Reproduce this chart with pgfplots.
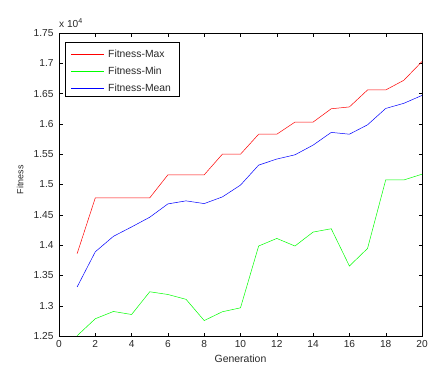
\documentclass[border=0pt]{standalone}
\usepackage{pgfplots}
\pgfplotsset{compat=1.18}
\usepackage{fontspec}
\setmainfont{Liberation Sans}
\definecolor{mred}{RGB}{255,0,0}
\definecolor{mgreen}{RGB}{0,255,0}
\definecolor{mblue}{RGB}{0,0,255}
\definecolor{mtext}{RGB}{40,40,40}
\begin{document}
\begin{tikzpicture}
\useasboundingbox (-59bp,-33bp) rectangle (371bp,336bp);
\begin{axis}[
  name=ax,
  at={(0,0)}, anchor=south west,
  scale only axis, width=363bp, height=303bp,
  xmin=0, xmax=20, ymin=12500, ymax=17500,
  xtick={0,2,...,20},
  ytick={12500,13000,...,17500},
  yticklabels={1.25,1.3,1.35,1.4,1.45,1.5,1.55,1.6,1.65,1.7,1.75},
  scaled y ticks=false,
  tick align=inside,
  major tick length=3.5bp,
  tick style={black, line width=0.4pt},
  axis line style={black, line width=0.5pt},
  ticklabel style={font=\fontsize{10.2}{12}\selectfont, text=mtext},
  yticklabel style={xshift=-2bp},
  xticklabel style={yshift=-1bp},
  /pgf/number format/assume math mode=true,
  xlabel={Generation}, ylabel={Fitness},
  xlabel style={font=\fontsize{10.5}{12}\selectfont, text=mtext, at={(axis description cs:0.5,-0.076)}, anchor=center},
  ylabel style={font=\fontsize{9}{11}\selectfont, text=mtext, at={(axis description cs:-0.107,0.515)}, anchor=center},
]
\addplot[color=mred, line width=0.5pt] coordinates {
(1,13860) (2,14780) (3,14780) (4,14780) (5,14780) (6,15160) (7,15160) (8,15160) (9,15500) (10,15500)
(11,15830) (12,15830) (13,16030) (14,16030) (15,16250) (16,16280) (17,16560) (18,16560) (19,16720) (20,17030)};
\addplot[color=mgreen, line width=0.5pt] coordinates {
(1,12505) (2,12785) (3,12905) (4,12855) (5,13230) (6,13185) (7,13105) (8,12755) (9,12900) (10,12965)
(11,13985) (12,14110) (13,13985) (14,14215) (15,14270) (16,13655) (17,13945) (18,15075) (19,15075) (20,15170)};
\addplot[color=mblue, line width=0.5pt] coordinates {
(1,13310) (2,13890) (3,14145) (4,14300) (5,14460) (6,14680) (7,14730) (8,14685) (9,14795) (10,14990)
(11,15320) (12,15420) (13,15490) (14,15650) (15,15860) (16,15830) (17,15985) (18,16255) (19,16340) (20,16470)};
\end{axis}
% legend
\draw[black, line width=0.5pt, fill=white] ([xshift=6bp,yshift=-9bp]ax.north west) rectangle ([xshift=120bp,yshift=-63bp]ax.north west);
\foreach \c/\t/\dy in {mred/Fitness-Max/-21bp, mgreen/Fitness-Min/-38bp, mblue/Fitness-Mean/-55bp} {
  \draw[color=\c, line width=0.5pt] ([xshift=12bp,yshift=\dy]ax.north west) -- ++(33bp,0);
  \node[anchor=west, inner sep=0pt, font=\fontsize{10.4}{12}\selectfont, text=mtext] at ([xshift=49bp,yshift=\dy]ax.north west) {\t};
}
\node[anchor=base west, inner sep=0pt, font=\fontsize{10.2}{12}\selectfont, text=mtext] at ([yshift=6bp]ax.north west) {x 10\textsuperscript{4}};
\end{tikzpicture}
\end{document}
